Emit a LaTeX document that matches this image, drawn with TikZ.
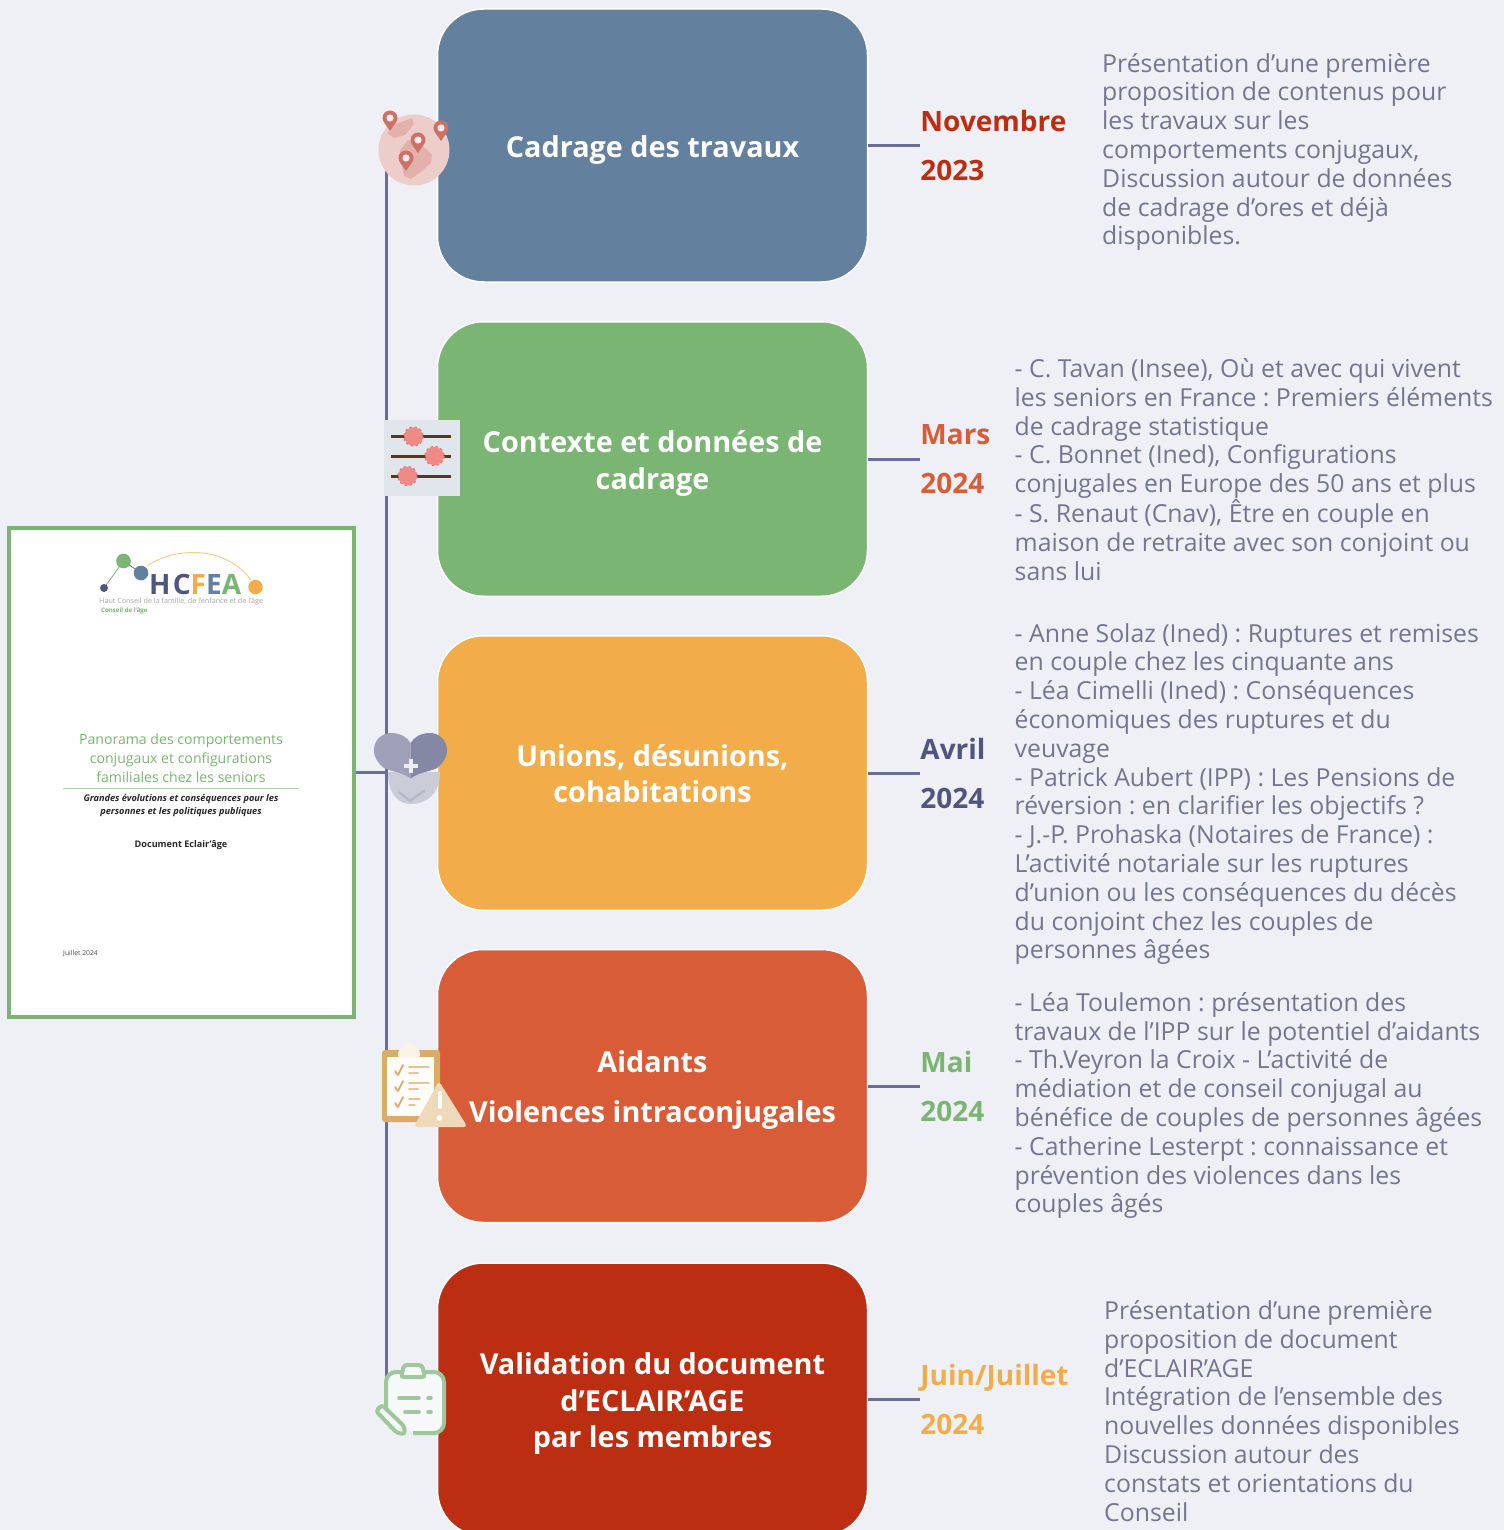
\documentclass[tikz,border=0pt]{standalone}
\usepackage{fontspec}
\setmainfont{Open Sans}
\usepackage{tikz}
\usetikzlibrary{positioning,calc}

\definecolor{fond}{HTML}{EFF0F5}
\definecolor{bleu}{HTML}{64809F}
\definecolor{vert}{HTML}{7BB573}
\definecolor{jaune}{HTML}{F2AC4A}
\definecolor{corail}{HTML}{D95C38}
\definecolor{rouge}{HTML}{BC2E11}
\definecolor{ardoise}{HTML}{50557E}
\definecolor{trait}{HTML}{6A6E96}
\definecolor{texte}{HTML}{73768F}
\definecolor{pinrouge}{HTML}{CB7168}
\definecolor{gear}{HTML}{EF8A85}
\definecolor{gearbord}{HTML}{DD7A76}
\definecolor{tan}{HTML}{DBAB68}
\definecolor{carre}{HTML}{E1E5EC}

\begin{document}
\frenchspacing
\begin{tikzpicture} [x=1pt,y=-1pt,>=latex,
    every node/.style={inner sep=0pt,align=center},
    etape/.style={rectangle, rounded corners=46pt, draw=white, line width=1.5pt,
      minimum width=430pt, minimum height=273pt},
    intitule/.style={text=white, font=\fontsize{28.8}{36.5}\selectfont\bfseries},
    date/.style={right=0pt of #1, align=left,
      font=\fontsize{28}{49}\selectfont\bfseries},
    detail/.style={anchor=west, align=left, text=texte,
      font=\fontsize{24.8}{28.8}\selectfont},
    con/.style={trait, line width=3pt},
    mappin/.pic={
      \fill[pinrouge] (0,12) .. controls (-3,7) and (-7.5,3) .. (-7.5,-1)
        arc[start angle=180,end angle=360,radius=7.5]
        .. controls (7.5,3) and (3,7) .. (0,12) -- cycle;
      \fill[white!85!pinrouge] (0,-1) circle (3.6);
    },
    roue/.pic={
      \draw[gearbord, line width=2.4pt, dash pattern=on 2.4pt off 2.4pt] (0,0) circle (9);
      \fill[gear] (0,0) circle (9.2);
    },
    coche/.pic={
      \draw[tan, line width=1.8pt, line cap=round, line join=round] (-4,0) -- (-1,4) -- (4,-6);
    },
    ]
    \clip (0,0) rectangle (1504,1530);
    \fill[fond] (0,0) rectangle (1504,1530);

    % document de gauche
    \node (doc) [rectangle, draw=vert, line width=4pt, fill=white,
      minimum width=345pt, minimum height=489pt] at (181.5,772.5) {};
    \draw[vert, line width=.8pt] (104,588) -- (123.5,561);
    \draw[trait, line width=.8pt] (123.5,561) -- (141,573);
    \draw[jaune!60!white, line width=1pt] (147,566) .. controls (175,547) and (225,545) .. (251,580);
    \fill[vert] (123.5,561) circle (7.3);
    \fill[bleu] (141,573) circle (7.3);
    \fill[ardoise] (104,588) circle (4);
    \fill[jaune] (255.5,587) circle (7.2);
    \node (logo) [anchor=base west, font=\fontsize{28}{28}\selectfont\bfseries\addfontfeature{LetterSpace=8}] at (149,594)
      {\textcolor{ardoise}{HC}\textcolor{jaune}{F}\textcolor{bleu}{E}\textcolor{vert}{A}};
    \node (haut) [anchor=base west, text=gray!70, font=\fontsize{7.2}{8}\selectfont] at (99,603)
      {Haut Conseil de la famille, de l’enfance et de l’âge};
    \node (conseil) [anchor=base west, text=vert, font=\fontsize{6.1}{8}\selectfont\bfseries] at (101,612)
      {Conseil de l’âge};
    \node (titre) [text=vert, font=\fontsize{14.1}{19}\selectfont] at (181,758)
      {Panorama des comportements\\conjugaux et configurations\\familiales chez les seniors};
    \draw[vert!60!white, line width=1pt] (63,788.5) -- (299,788.5);
    \node (soustitre) [text=black!85, font=\fontsize{9.2}{13}\selectfont\bfseries\itshape] at (181,806)
      {Grandes évolutions et conséquences pour les\\personnes et les politiques publiques};
    \node (eclair) [text=black!85, font=\fontsize{9.1}{13}\selectfont\bfseries] at (181,845)
      {Document Eclair’âge};
    \node (juillet) [anchor=west, text=black!70, font=\fontsize{6.8}{8}\selectfont] at (63,953.5)
      {Juillet 2024};

    % les cinq etapes
    \node (e1) [etape, fill=bleu] at (652.5,145.5) {};
    \node (e2) [etape, fill=vert, minimum height=274.5pt] at (652.5,459) {};
    \node (e3) [etape, fill=jaune, minimum height=274.5pt] at (652.5,773) {};
    \node (e4) [etape, fill=corail] at (652.5,1086) {};
    \node (e5) [etape, fill=rouge] at (652.5,1399.5) {};

    \node (n1) [intitule] at ($(e1)+(0,4.5)$) {Cadrage des travaux};
    \node (n2) [intitule] at ($(e2)+(0,4.5)$) {Contexte et données de\\cadrage};
    \node (n3) [intitule] at ($(e3)+(0,.5)$) {Unions, désunions,\\cohabitations};
    \node (n4) [intitule] at ($(e4)+(0,4.5)$) {Aidants\\[13.5pt]Violences intraconjugales};
    \node (n5) [intitule] at ($(e5)+(0,4.5)$) {Validation du document\\d’ECLAIR’AGE\\par les membres};

    \coordinate [right=52pt of e1.east] (s1);
    \coordinate [right=52pt of e2.east] (s2);
    \coordinate [right=52pt of e3.east] (s3);
    \coordinate [right=52pt of e4.east] (s4);
    \coordinate [right=52pt of e5.east] (s5);
    \coordinate (dep) at (386,150);
    \coordinate (fin) at (386,1400);

    \draw [con] (dep) -- (fin);
    \draw [con] (doc.east) -- (doc.east -| dep);
    \draw [con] (e1.east) -- (s1);
    \draw [con] (e2.east) -- (s2);
    \draw [con] (e3.east) -- (s3);
    \draw [con] (e4.east) -- (s4);
    \draw [con] (e5.east) -- (s5);

    \node (d1) [date=s1, text=rouge] {Novembre\\2023};
    \node (d2) [date=s2, text=corail] {Mars\\2024};
    \node (d3) [date=s3, text=ardoise] {Avril\\2024};
    \node (d4) [date=s4, text=vert] {Mai\\2024};
    \node (d5) [date=s5, text=jaune] {Juin/Juillet\\2024};

    \node (t1) [detail] at (1102,152) {Présentation d’une première\\proposition de contenus pour\\les travaux sur les\\comportements conjugaux,\\Discussion autour de données\\de cadrage  d’ores et déjà\\disponibles.};
    \node (t2) [detail] at (1014.5,469.5) {- C. Tavan (Insee), Où et avec qui vivent\\les seniors en France : Premiers éléments\\de cadrage statistique\\- C. Bonnet (Ined), Configurations\\conjugales en Europe des 50 ans et plus\\- S. Renaut (Cnav), Être en couple en\\maison de retraite avec son conjoint ou\\sans lui};
    \node (t3) [detail] at (1014.5,794) {- Anne Solaz (Ined) : Ruptures et remises\\en couple chez les cinquante ans\\- Léa Cimelli (Ined) : Conséquences\\économiques des ruptures et du\\veuvage\\- Patrick Aubert (IPP)  : Les Pensions de\\réversion : en clarifier les objectifs ?\\- J.-P. Prohaska (Notaires de France) :\\L’activité notariale sur les ruptures\\d’union ou les conséquences du décès\\du conjoint chez les couples de\\personnes âgées};
    \node (t4) [detail] at (1014.5,1105.5) {- Léa Toulemon : présentation des\\travaux de l’IPP sur le potentiel d’aidants\\- Th.Veyron la Croix - L’activité de\\médiation et de conseil conjugal au\\bénéfice de couples de personnes âgées\\- Catherine Lesterpt : connaissance et\\prévention des violences dans les\\couples âgés};
    \node (t5) [detail] at (1104,1411) {Présentation d’une première\\proposition de document\\d’ECLAIR’AGE\\Intégration de l’ensemble des\\nouvelles données disponibles\\Discussion autour des\\constats et orientations du\\Conseil};

    % globe
    \fill[pinrouge!35!white] (414,150) circle (35.5);
    \fill[pinrouge!55!white] (387,133) -- (396,124) -- (412,118) -- (414,124) -- (405,135) -- (394,138) -- cycle;
    \fill[pinrouge!55!white] (400,150) -- (408,140) -- (425,148) -- (432,155) -- (431,163) -- (423,170) -- (411,179) -- (404,176) -- (402,165) -- cycle;
    \pic at (390,119) {mappin};
    \pic at (441,129) {mappin};
    \pic at (418,141) {mappin};
    \pic at (406,159) {mappin};

    % reglages
    \fill[carre] (384,420) rectangle (460,496);
    \draw[brown!45!black, line width=2.6pt] (391,436.7) -- (451,436.7);
    \draw[brown!45!black, line width=2.6pt] (391,456.7) -- (451,456.7);
    \draw[brown!45!black, line width=2.6pt] (391,476.7) -- (451,476.7);
    \pic at (413.5,436.5) {roue};
    \pic at (434.5,456) {roue};
    \pic at (407.5,476) {roue};

    % coeur
    \fill[ardoise!30!white] (388,772) .. controls (388,794) and (398,804) .. (411,804)
      .. controls (426,804) and (440,794) .. (440,772) -- cycle;
    \draw[ardoise!42!white, line width=2.4pt] (399,792) -- (410,801) -- (425,790);
    \fill[ardoise!55!white] (410.7,778.5) .. controls (402,772) and (392,772) .. (384,768)
      .. controls (378,763) and (374,758) .. (374,750)
      .. controls (374,740) and (382,733) .. (391,733)
      .. controls (400,733) and (407,737) .. (410.7,743) -- cycle;
    \fill[ardoise!70!white] (410.7,778.5) .. controls (419,772) and (429,772) .. (437,768)
      .. controls (443,763) and (447,758) .. (447,750)
      .. controls (447,740) and (439,733) .. (430,733)
      .. controls (421,733) and (414,737) .. (410.7,743) -- cycle;
    \draw[white!90!ardoise, line width=3.8pt] (403.5,766) -- (418,766) (410.7,759) -- (410.7,773);

    % liste et alerte
    \fill[tan, rounded corners=3pt] (382,1050) rectangle (440,1122);
    \fill[white!97!tan] (387,1057) rectangle (434,1116);
    \fill[white!85!tan, rounded corners=3pt] (398,1058) -- (398,1050) -- (403,1049)
      arc[start angle=180,end angle=360,radius=6.5] -- (420,1050) -- (420,1058) -- cycle;
    \pic at (399,1071) {coche};
    \pic at (399,1087) {coche};
    \pic at (399,1103) {coche};
    \draw[tan!70!white, line width=1.8pt, line cap=round]
      (409,1067) -- (429,1067) (409,1073) -- (418,1073)
      (409,1083) -- (429,1083) (409,1089) -- (418,1089)
      (409,1099) -- (420,1099) (409,1105) -- (415,1105);
    \fill[tan!45!white, draw=tan!45!white, line width=4pt, line join=round]
      (439,1085) -- (417,1125) -- (464,1125) -- cycle;
    \draw[white, line width=4pt, line cap=round] (439.5,1093) -- (439.5,1107);
    \fill[white] (439.5,1118) circle (2.8);

    % bloc-notes
    \draw[vert!70!fond, line width=4pt, fill=white!50!fond, rounded corners=10pt]
      (413,1433) -- (444,1433) -- (444,1372) -- (386,1372) -- (386,1408);
    \draw[vert!70!fond, line width=4pt, fill=white!50!fond, rounded corners=3pt]
      (401,1377) -- (404,1365) -- (422,1365) -- (425,1377) -- cycle;
    \draw[vert!70!fond, line width=3.5pt, line cap=round]
      (399,1398) -- (419,1398) (428,1398) -- (431,1398)
      (405,1412) -- (419,1412) (428,1412) -- (431,1412);
    \draw[vert!70!fond, line width=4pt, fill=white!50!fond, rounded corners=3pt]
      (376,1411) -- (382,1405) -- (404,1426) -- (405,1434) -- (397,1433) -- cycle;
  \end{tikzpicture}
\end{document}
